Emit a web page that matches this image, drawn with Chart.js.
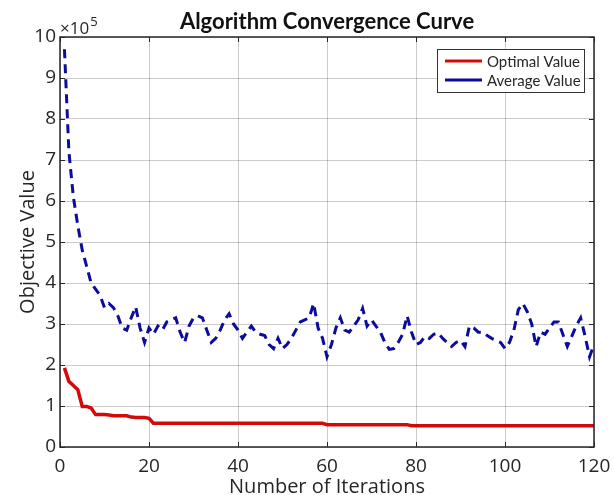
<!DOCTYPE html>
<html><head><meta charset="utf-8">
<script src="https://cdn.jsdelivr.net/npm/chart.js@4"></script>
<style>html,body{margin:0;padding:0;background:#fff;} canvas{display:block;}</style>
</head><body>
<canvas id="c" width="614" height="495"></canvas>
<script>
// Values are in units of 1e5 (axis shows "×10^5")
const iterations = Array.from({length: 120}, (_, i) => i + 1);

const optimalValue = [
  1.93,1.60,1.50,1.40,0.99,0.99,0.95,0.79,0.79,0.79,
  0.78,0.76,0.76,0.76,0.76,0.73,0.72,0.72,0.72,0.70,
  0.58,0.58,0.58,0.58,0.58,0.58,0.58,0.58,0.58,0.58,
  0.58,0.58,0.58,0.58,0.58,0.58,0.58,0.58,0.58,0.58,
  0.58,0.58,0.58,0.58,0.58,0.58,0.58,0.58,0.58,0.58,
  0.58,0.58,0.58,0.58,0.58,0.58,0.58,0.58,0.58,0.545,
  0.545,0.545,0.545,0.545,0.545,0.545,0.545,0.545,0.545,0.545,
  0.545,0.545,0.545,0.545,0.545,0.545,0.545,0.545,0.52,0.52,
  0.52,0.52,0.52,0.52,0.52,0.52,0.52,0.52,0.52,0.52,
  0.52,0.52,0.52,0.52,0.52,0.52,0.52,0.52,0.52,0.52,
  0.52,0.52,0.52,0.52,0.52,0.52,0.52,0.52,0.52,0.52,
  0.52,0.52,0.52,0.52,0.52,0.52,0.52,0.52,0.52,0.52
];

const averageValue = [
  9.70,7.20,6.10,5.40,4.80,4.40,4.00,3.85,3.70,3.40,
  3.50,3.40,3.20,2.90,2.85,3.15,3.42,2.90,2.55,2.90,
  2.75,2.95,2.85,3.05,3.10,3.15,2.80,2.55,2.95,3.15,
  3.20,3.15,2.85,2.55,2.65,2.85,3.10,3.25,3.00,2.85,
  2.65,2.80,2.95,2.80,2.75,2.72,2.50,2.40,2.65,2.40,
  2.50,2.65,2.85,3.05,3.10,3.15,3.50,2.90,2.65,2.20,
  2.50,2.90,3.15,2.85,2.80,2.95,3.10,3.38,2.95,3.10,
  2.95,2.80,2.55,2.38,2.40,2.55,2.75,3.20,2.80,2.50,
  2.55,2.70,2.65,2.75,2.78,2.65,2.55,2.45,2.55,2.60,
  2.45,2.95,2.90,2.80,2.80,2.72,2.65,2.60,2.55,2.40,
  2.55,2.85,3.35,3.50,3.30,3.00,2.45,2.80,2.75,2.90,
  3.05,3.05,2.75,2.45,2.70,2.95,3.15,2.70,2.20,2.50
];

const xTicks = [0, 20, 40, 60, 80, 100, 120];
const yTicks = [0, 1, 2, 3, 4, 5, 6, 7, 8, 9, 10];
const titleText = 'Algorithm Convergence Curve';
const xTitle = 'Number of Iterations';
const yTitle = 'Objective Value';
const seriesNames = ['Optimal Value', 'Average Value'];
const exponent = '5';

const RED = '#d20a0a';
const BLUE = '#0c0c9c';
const TXT = '#262626';
const FONT = "'Open Sans', 'Noto Sans', sans-serif";
const LFONT = "Lato, 'Open Sans', sans-serif";

const toXY = arr => arr.map((v, i) => ({x: iterations[i], y: v}));

const framePlugin = {
  id: 'frame',
  afterDraw(chart) {
    const {ctx, chartArea: a, scales} = chart;
    ctx.save();
    // inward ticks
    ctx.strokeStyle = TXT; ctx.lineWidth = 1;
    xTicks.forEach(t => {
      const px = Math.round(scales.x.getPixelForValue(t)) + 0.5;
      ctx.beginPath(); ctx.moveTo(px, a.bottom); ctx.lineTo(px, a.bottom - 5);
      ctx.moveTo(px, a.top); ctx.lineTo(px, a.top + 5); ctx.stroke();
    });
    yTicks.forEach(t => {
      const py = Math.round(scales.y.getPixelForValue(t)) + 0.5;
      ctx.beginPath(); ctx.moveTo(a.left, py); ctx.lineTo(a.left + 5, py);
      ctx.moveTo(a.right, py); ctx.lineTo(a.right - 5, py); ctx.stroke();
    });
    // box
    ctx.lineWidth = 1.5;
    ctx.strokeRect(a.left, a.top, a.right - a.left, a.bottom - a.top);
    // title centred over plot area
    ctx.fillStyle = '#111';
    ctx.textAlign = 'center'; ctx.textBaseline = 'alphabetic';
    ctx.font = 'bold 22px ' + LFONT;
    ctx.fillText(titleText, (a.left + a.right) / 2, 29);
    // exponent label
    ctx.fillStyle = TXT;
    ctx.textAlign = 'left';
    ctx.font = '17px ' + FONT;
    const base = '\u00d710';
    ctx.fillText(base, a.left, a.top - 3);
    const w = ctx.measureText(base).width;
    ctx.font = '13px ' + FONT;
    ctx.fillText(exponent, a.left + w + 1, a.top - 11);
    // legend
    const lx = 437, ly = 49, lw = 147, lh = 43;
    ctx.fillStyle = '#fff';
    ctx.fillRect(lx, ly, lw, lh);
    ctx.strokeStyle = '#333'; ctx.lineWidth = 1;
    ctx.strokeRect(lx + 0.5, ly + 0.5, lw, lh);
    chart.data.datasets.forEach((ds, i) => {
      const yy = ly + 12 + i * 19;
      ctx.strokeStyle = ds.borderColor; ctx.lineWidth = 3; ctx.setLineDash([]);
      ctx.beginPath(); ctx.moveTo(lx + 8, yy); ctx.lineTo(lx + 45, yy); ctx.stroke();
      ctx.fillStyle = TXT; ctx.font = '15px ' + LFONT; ctx.textBaseline = 'middle';
      ctx.fillText(ds.label, lx + 50, yy + 1);
    });
    ctx.restore();
  }
};

new Chart(document.getElementById('c'), {
  type: 'line',
  data: {
    datasets: [
      {label: seriesNames[0], data: toXY(optimalValue), borderColor: RED, borderWidth: 3.5,
       pointRadius: 0, tension: 0, fill: false},
      {label: seriesNames[1], data: toXY(averageValue), borderColor: BLUE, borderWidth: 3,
       borderDash: [9, 6], pointRadius: 0, tension: 0, fill: false}
    ]
  },
  options: {
    responsive: false, animation: false, devicePixelRatio: 1,
    layout: {padding: {left: 0, right: 20, top: 37, bottom: 0}},
    plugins: {
      legend: {display: false},
      tooltip: {enabled: false},
      title: {display: false}
    },
    scales: {
      x: {type: 'linear', min: 0, max: 120,
        afterFit: s => { s.height = 48; s.paddingRight = 0; s.paddingLeft = 0; },
        afterBuildTicks: s => { s.ticks = xTicks.map(v => ({value: v})); },
        ticks: {color: TXT, font: {family: FONT, size: 19}, padding: 8, maxRotation: 0},
        grid: {color: 'rgba(0,0,0,0.2)', drawTicks: false},
        border: {display: false},
        title: {display: true, text: xTitle, color: TXT,
          font: {family: FONT, size: 20, lineHeight: 0.8}, padding: {top: 0, bottom: 0}}
      },
      y: {min: 0, max: 10,
        afterFit: s => { s.width = 60; s.paddingTop = 0; s.paddingBottom = 0; },
        afterBuildTicks: s => { s.ticks = yTicks.map(v => ({value: v})); },
        ticks: {color: TXT, font: {family: FONT, size: 19}, padding: 4},
        grid: {color: 'rgba(0,0,0,0.2)', drawTicks: false},
        border: {display: false},
        title: {display: true, text: yTitle, color: TXT,
          font: {family: FONT, size: 20, lineHeight: 1.2}, padding: {top: 16, bottom: 0}}
      }
    }
  },
  plugins: [framePlugin]
});
</script>
</body></html>
